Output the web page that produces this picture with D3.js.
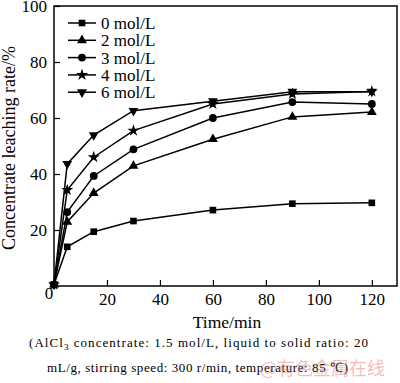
<!DOCTYPE html>
<html><head><meta charset="utf-8">
<script src="https://cdn.jsdelivr.net/npm/d3@7"></script>
<style>body{margin:0;background:#fff}svg{display:block}</style>
</head><body>
<script>
const times = [0, 5, 15, 30, 60, 90, 120];
const seriesNames = ["0 mol/L", "2 mol/L", "3 mol/L", "4 mol/L", "6 mol/L"];
const s0 = [0.5, 14.0, 19.4, 23.2, 27.1, 29.4, 29.7];
const s2 = [0.5, 22.9, 33.2, 42.9, 52.4, 60.4, 62.1];
const s3 = [0.5, 26.4, 39.3, 48.8, 60.0, 65.7, 65.0];
const s4 = [0.5, 34.3, 46.0, 55.5, 65.0, 68.6, 69.5];
const s6 = [0.5, 43.6, 53.9, 62.6, 66.0, 69.4, 69.4];
const seriesValues = [s0, s2, s3, s4, s6];
const xTicks = [0, 20, 40, 60, 80, 100, 120];
const yTicks = [20, 40, 60, 80, 100];

const W = 400, H = 383;
const svg = d3.select("body").append("svg").attr("width", W).attr("height", H);
const L = 54, R = 397, T = 6, B = 286;
const x = d3.scaleLinear().domain([0, 129.5]).range([L, R]);
const y = d3.scaleLinear().domain([0, 100]).range([B, T]);
const font = "'Liberation Serif', 'Times New Roman', serif";

// frame
svg.append("rect").attr("x", L).attr("y", T).attr("width", R - L).attr("height", B - T)
  .attr("fill", "none").attr("stroke", "#000").attr("stroke-width", 1.5);

// x axis
const xa = svg.append("g").attr("transform", `translate(0,${B})`)
  .call(d3.axisBottom(x).tickValues(xTicks.filter(d => d > 0)).tickSizeInner(-6).tickSizeOuter(0).tickPadding(6));
xa.select(".domain").remove();
xa.selectAll("line").attr("stroke-width", 1.2);
xa.selectAll("text").attr("font-family", font).attr("font-size", 17).attr("fill", "#000").attr("dy", "0.75em");
svg.append("text").attr("x", 49).attr("y", 299).attr("text-anchor", "middle")
  .attr("font-family", font).attr("font-size", 17).text(xTicks[0]);

// y axis
const ya = svg.append("g").attr("transform", `translate(${L},0)`)
  .call(d3.axisLeft(y).tickValues(yTicks).tickSizeInner(-6).tickSizeOuter(0).tickPadding(7));
ya.select(".domain").remove();
ya.selectAll("line").attr("stroke-width", 1.2);
ya.selectAll("text").attr("font-family", font).attr("font-size", 17).attr("fill", "#000");

// titles
svg.append("text").attr("transform", `translate(15,148) rotate(-90)`).attr("text-anchor", "middle")
  .attr("font-family", font).attr("font-size", 18).text("Concentrate leaching rate/%");
svg.append("text").attr("x", 227).attr("y", 328).attr("text-anchor", "middle")
  .attr("font-family", font).attr("font-size", 17.5).text("Time/min");

// symbols
const triDown = {draw(ctx, size) { const s = Math.sqrt(size / (Math.sqrt(3) / 4)) ; const h = s * Math.sqrt(3) / 2;
  ctx.moveTo(0, h * 2 / 3); ctx.lineTo(-s / 2, -h / 3); ctx.lineTo(s / 2, -h / 3); ctx.closePath(); }};
const symbols = [
  d3.symbol(d3.symbolSquare, 44),
  d3.symbol(d3.symbolTriangle, 42),
  d3.symbol(d3.symbolCircle, 48),
  d3.symbol(d3.symbolStar, 45),
  d3.symbol(triDown, 42)
];

const line = d3.line().x((d, i) => x(times[i])).y(d => y(d));
seriesValues.forEach((vals, k) => {
  svg.append("path").attr("d", line(vals)).attr("fill", "none").attr("stroke", "#000").attr("stroke-width", 1.5);
  svg.append("g").selectAll("path").data(vals).join("path")
    .attr("transform", (d, i) => `translate(${x(times[i])},${y(d)})`)
    .attr("d", symbols[k]()).attr("fill", "#000");
});

// legend
const legY0 = 23, legDy = 17.3;
seriesNames.forEach((name, k) => {
  const yy = legY0 + k * legDy;
  svg.append("line").attr("x1", 68).attr("x2", 96).attr("y1", yy).attr("y2", yy).attr("stroke", "#000").attr("stroke-width", 1.5);
  svg.append("path").attr("transform", `translate(82,${yy})`).attr("d", symbols[k]()).attr("fill", "#000");
  svg.append("text").attr("x", 101).attr("y", yy).attr("dy", "0.35em").attr("font-family", font).attr("font-size", 17).text(name);
});

// caption
const c1 = svg.append("text").attr("x", 29).attr("y", 347).attr("font-family", font).attr("font-size", 13)
  .attr("textLength", 339).attr("lengthAdjust", "spacing");
c1.append("tspan").text("(AlCl");
c1.append("tspan").attr("font-size", 9).attr("dy", 3).text("3");
c1.append("tspan").attr("dy", -3).text(" concentrate:  1.5  mol/L,  liquid  to  solid  ratio:  20");
svg.append("text").attr("x", 47).attr("y", 372).attr("font-family", font).attr("font-size", 13)
  .attr("textLength", 301).attr("lengthAdjust", "spacing")
  .text("mL/g, stirring speed: 300 r/min, temperature: 85 ℃)");

// watermark
svg.append("text").attr("x", 260).attr("y", 375).attr("font-family", "'Noto Sans CJK SC', sans-serif")
  .attr("font-size", 18).attr("fill", "rgba(235,120,120,0.5)").text("@有色金属在线");
</script>
</body></html>
